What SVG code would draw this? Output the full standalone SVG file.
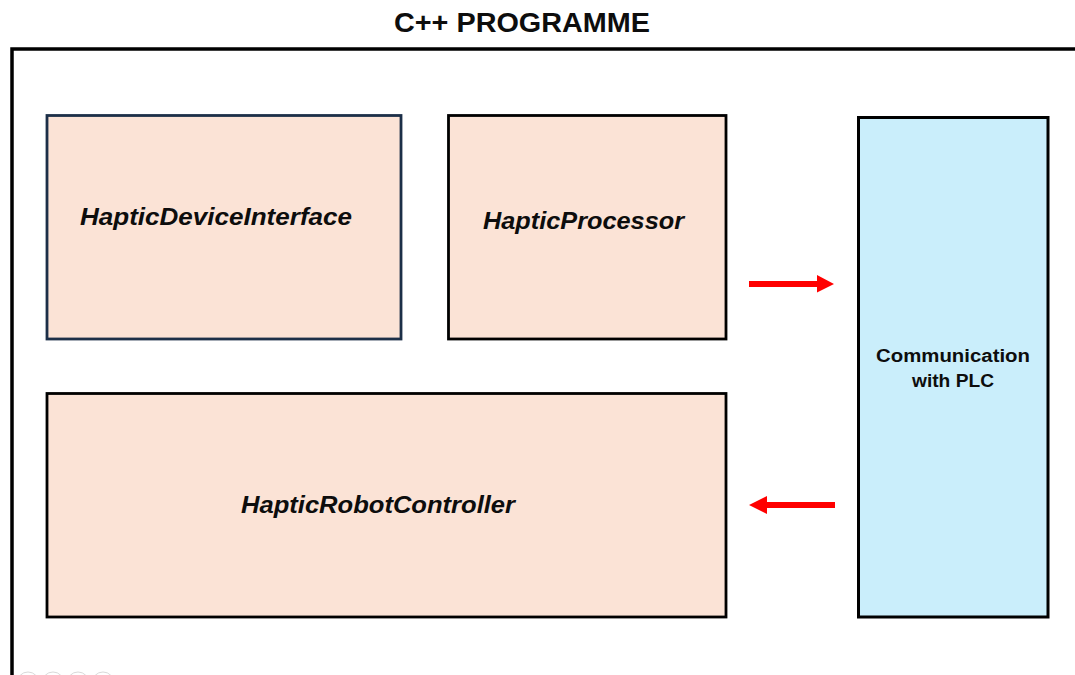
<svg xmlns="http://www.w3.org/2000/svg" width="1075" height="675" viewBox="0 0 1075 675">
  <defs>
    <style>
      .block { fill: #fbe3d6; stroke: #000; stroke-width: 2.8; }
      .block-nav { fill: #fbe3d6; stroke: #1c2f48; stroke-width: 2.8; }
      .plc { fill: #caeefb; stroke: #000; stroke-width: 3; }
      .label { font-family: "Liberation Sans", Arial, sans-serif; font-weight: bold; font-style: italic; font-size: 23px; fill: #0d0d0d; }
      .plc-label { font-family: "Liberation Sans", Arial, sans-serif; font-weight: bold; font-size: 18px; fill: #0d0d0d; }
      .title { font-family: "Liberation Sans", Arial, sans-serif; font-weight: bold; font-size: 27px; fill: #0d0d0d; }
      .frame { fill: none; stroke: #000; stroke-width: 3.5; }
      .link { fill: #ff0000; stroke: none; }
      .dot { fill: none; stroke: #d9d9d9; stroke-width: 1; }
    </style>
  </defs>

  <rect width="1075" height="675" fill="#ffffff"/>

  <!-- program boundary -->
  <g id="program">
    <text class="title" x="394" y="32" textLength="256" lengthAdjust="spacingAndGlyphs">C++ PROGRAMME</text>
    <path class="frame" d="M12,675 V49 H1075"/>
  </g>

  <g id="haptic-device-interface">
    <rect class="block-nav" x="47" y="115.5" width="354" height="223.5"/>
    <text class="label" x="80" y="225" textLength="272" lengthAdjust="spacingAndGlyphs">HapticDeviceInterface</text>
  </g>

  <g id="haptic-processor">
    <rect class="block" x="448.5" y="115.5" width="277.5" height="223.5"/>
    <text class="label" x="483" y="229" textLength="201" lengthAdjust="spacingAndGlyphs">HapticProcessor</text>
  </g>

  <g id="haptic-robot-controller">
    <rect class="block" x="47" y="393.5" width="679" height="223.5"/>
    <text class="label" x="241" y="513" textLength="274" lengthAdjust="spacingAndGlyphs">HapticRobotController</text>
  </g>

  <g id="plc-communication">
    <rect class="plc" x="858.5" y="117.5" width="189.5" height="499.5"/>
    <text class="plc-label" x="876" y="362" textLength="154" lengthAdjust="spacingAndGlyphs">Communication</text>
    <text class="plc-label" x="912" y="387" textLength="82" lengthAdjust="spacingAndGlyphs">with PLC</text>
  </g>

  <!-- data flow to and from the PLC link -->
  <g id="connectors">
    <path class="link" d="M749,281 H817 V275 L834,284 L817,292.5 V287 H749 Z"/>
    <path class="link" d="M835,502 H767 V496 L749,505 L767,514 V508 H835 Z"/>
  </g>

  <!-- slide navigation dots -->
  <g id="nav-dots">
    <circle class="dot" cx="28" cy="683" r="11"/>
    <circle class="dot" cx="53" cy="683" r="11"/>
    <circle class="dot" cx="78" cy="683" r="11"/>
    <circle class="dot" cx="103" cy="683" r="11"/>
  </g>
</svg>
